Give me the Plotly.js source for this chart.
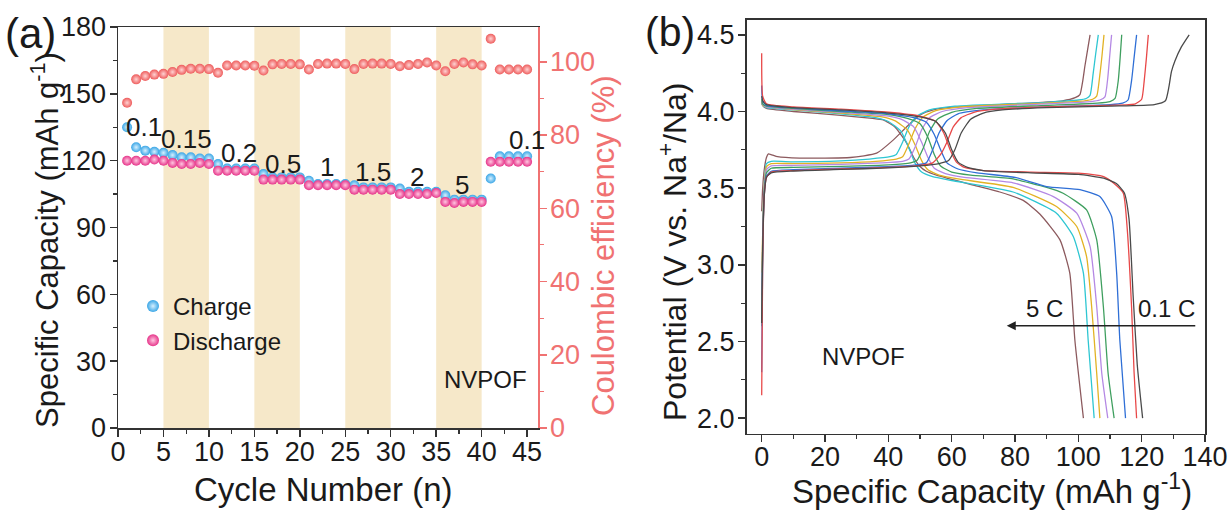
<!DOCTYPE html>
<html><head><meta charset="utf-8">
<script src="https://cdn.plot.ly/plotly-3.0.1.min.js"></script>
<style>html,body{margin:0;padding:0;background:#fff}#chart{width:1232px;height:512px}</style>
</head><body><div id="chart"></div>
<script>
// ---------- Panel (a) data ----------
const cycles = [1,2,3,4,5,6,7,8,9,10,11,12,13,14,15,16,17,18,19,20,21,22,23,24,25,26,27,28,29,30,31,32,33,34,35,36,37,38,39,40,41,42,43,44,45];
const chargeCap = [135,126,124.5,124,123.5,122.5,121.5,121.5,121,121,118.5,116.5,116.5,116.5,116.5,114,112.5,112.5,112.5,112.5,111,109.5,109.5,109.5,109.5,109,108,108,108,108,107.5,106,106,106,106,104.5,102.5,102.5,102.5,102.5,112,122,122,122,122];
const dischargeCap = [120,120,120,120.5,120,119,118.5,118.5,119,118.5,115.5,115.5,115.5,115.5,115.5,111.5,111.5,111.5,111.5,111.5,109,109,109,109,109,107,107,107,107,107,105,105,105,105,105.5,101.5,101,101.5,101.5,101.5,119.5,119.5,119.5,119.5,119.5];
const coulombicEff = [88.8,95.2,96.1,96.5,96.7,97.2,97.8,98.1,98.1,98.0,97.0,99.0,99.0,99.0,98.9,97.6,99.3,99.4,99.4,99.3,97.9,99.4,99.5,99.5,99.4,98.0,99.4,99.5,99.5,99.4,98.8,99.1,99.4,99.8,99.0,97.4,99.4,99.8,99.3,99.0,106.3,97.9,97.9,97.9,97.9];
const bandStart = [5,15,25,35];
const bandEnd = [10,20,30,40];
const rateLabels = ['0.1','0.15','0.2','0.5','1','1.5','2','5','0.1'];
const rateLabelCycle = [2.9,7.5,13.3,18.2,23.0,28.0,32.9,37.8,45.0];
const rateLabelCap = [135,129.7,123.4,118.5,117,114.9,112.7,109,129.3];

// ---------- Panel (b) data ----------
const rateNames = ['0.1 C','0.15 C','0.2 C','0.5 C','1 C','1.5 C','2 C','5 C'];
const chgCap_01 = [0,0.3,0.8,1.5,3,10,25,40,50,56,59,61,63,66,70,76,90,110,124,127.5,128.6,129.4,130.5,132.5,135];
const chgV_01   = [2.62,3.1,3.45,3.57,3.6,3.612,3.622,3.632,3.645,3.66,3.68,3.75,3.86,3.95,3.99,4.01,4.025,4.035,4.045,4.07,4.16,4.26,4.33,4.42,4.5];
const chgCap_015 = [0,0.3,0.8,1.5,3,10,25,40,50,54,56.5,58.5,60.5,63,67,74,90,110,118,120,120.8,121.5,122.1];
const chgV_015   = [2.15,3.0,3.45,3.57,3.605,3.615,3.625,3.635,3.648,3.665,3.72,3.8,3.9,3.96,3.995,4.015,4.03,4.04,4.05,4.08,4.2,4.35,4.5];
const chgCap_02 = [0,0.3,0.8,1.5,3,10,25,40,48,52,54,56,58.5,62,70,90,110,114,115.7,116.8,117.6,118.4];
const chgV_02   = [2.3,3.05,3.45,3.58,3.61,3.62,3.63,3.64,3.65,3.665,3.75,3.86,3.94,3.985,4.01,4.03,4.045,4.055,4.075,4.2,4.35,4.5];
const chgCap_05 = [0,0.3,0.8,1.5,3,10,25,40,47,49,51,53,55.5,60,68,90,106,110,111.6,112.6,113.2,113.7];
const chgV_05   = [2.65,3.1,3.48,3.6,3.63,3.635,3.642,3.652,3.665,3.68,3.76,3.87,3.95,3.995,4.02,4.04,4.055,4.065,4.085,4.2,4.35,4.5];
const chgCap_1 = [0,0.3,0.8,1.5,3,10,25,38,44.5,46.5,48.5,50.5,53,57,65,90,104,106.8,108.4,109.3,109.9,110.5];
const chgV_1   = [2.8,3.15,3.5,3.62,3.645,3.648,3.655,3.665,3.675,3.69,3.77,3.88,3.96,4.0,4.025,4.05,4.065,4.075,4.095,4.22,4.36,4.5];
const chgCap_15 = [0,0.3,0.8,1.5,3,10,25,36,42.5,44.5,46.5,48.5,51,55,63,90,102,104.5,105.8,106.8,107.5,108.1];
const chgV_15   = [2.95,3.2,3.52,3.64,3.66,3.66,3.665,3.675,3.69,3.705,3.79,3.89,3.965,4.005,4.03,4.055,4.07,4.08,4.1,4.24,4.37,4.5];
const chgCap_2 = [0,0.3,0.8,1.5,3,10,25,34,40.5,42.5,44.5,46.5,49,53,61,90,100,102.5,103.7,104.7,105.5,106.3];
const chgV_2   = [2.6,3.15,3.52,3.66,3.675,3.672,3.678,3.69,3.705,3.72,3.8,3.9,3.97,4.01,4.035,4.06,4.075,4.085,4.105,4.25,4.38,4.5];
const chgCap_5 = [0,0.3,0.8,1.5,2.1,5,12,28,36.3,41.6,45.8,50,54.2,60,75,95,99,100.5,101.4,102.1,102.9,103.7];
const chgV_5   = [3.35,3.5,3.62,3.7,3.724,3.705,3.696,3.7,3.728,3.815,3.9,3.978,4.011,4.028,4.045,4.07,4.09,4.11,4.2,4.3,4.4,4.5];

const disCap_01 = [0,0.3,1.5,10,25,40,50,55,58,60,62,65,70,85,100,108,112,114.5,116,117.3,118.6,120.3];
const disV_01   = [4.1,4.07,4.045,4.025,4.01,3.99,3.965,3.935,3.86,3.75,3.67,3.635,3.615,3.6,3.59,3.565,3.53,3.47,3.3,2.8,2.35,2.0];
const disCap_015 = [0,0.3,1.5,10,25,40,50,55,57.5,59.5,61.5,64,70,85,100,108,111,114.2,115.3,116.8,117.6,118.4];
const disV_015   = [4.38,4.1,4.05,4.03,4.015,3.995,3.97,3.935,3.86,3.75,3.67,3.635,3.615,3.605,3.598,3.575,3.535,3.467,3.272,2.728,2.3,2.0];
const disCap_02 = [0,0.3,1.5,10,25,40,48,52,54.5,56.5,58.5,62,68,80,90,100.5,106.8,110.5,112.1,113.1,114.9];
const disV_02   = [4.17,4.07,4.04,4.025,4.005,3.985,3.96,3.93,3.85,3.75,3.665,3.625,3.6,3.57,3.51,3.49,3.445,3.315,2.946,2.51,2.0];
const disCap_05 = [0,0.3,1.5,10,25,40,46,50,52.5,54.5,56.5,60,66,79.4,90,95.2,102.6,105.8,107.9,109.4,111.3];
const disV_05   = [4.08,4.05,4.035,4.02,4.0,3.98,3.955,3.92,3.83,3.72,3.645,3.605,3.585,3.56,3.505,3.467,3.358,3.163,2.728,2.293,2.0];
const disCap_1 = [0,0.3,1.5,10,25,40,44,48,50.5,52.5,54.5,58,64,79.4,92.1,99.5,103.7,105.8,107.4,109.3];
const disV_1   = [4.07,4.045,4.03,4.015,3.995,3.97,3.95,3.9,3.8,3.7,3.63,3.595,3.57,3.535,3.445,3.337,3.12,2.728,2.293,2.0];
const disCap_15 = [0,0.3,1.5,10,25,38,42,46,48.5,50.5,52.5,56,62,79.4,93.1,99.5,102.6,104.2,105.8,106.8];
const disV_15   = [4.07,4.04,4.03,4.013,3.99,3.965,3.94,3.88,3.78,3.68,3.62,3.585,3.56,3.505,3.38,3.25,3.054,2.728,2.293,2.0];
const disCap_2 = [0,0.3,1.5,10,25,36,40,44,46.5,48.5,50.5,54,60,79.4,93.1,98.4,101.6,103.1,105.0];
const disV_2   = [4.06,4.04,4.025,4.01,3.985,3.96,3.935,3.87,3.76,3.66,3.605,3.575,3.55,3.475,3.337,3.185,2.946,2.51,2.0];
const disCap_5 = [0,0.3,1.5,10,25,35,38.4,42,45.8,48,50,52,55.2,66.8,75.2,82.6,87.9,94.2,97.3,98.9,101.6];
const disV_5   = [4.06,4.04,4.02,4.0,3.975,3.955,3.945,3.9,3.794,3.7,3.641,3.61,3.585,3.52,3.475,3.42,3.33,3.163,2.946,2.51,2.0];

const chargeSets = [[chgCap_01,chgV_01],[chgCap_015,chgV_015],[chgCap_02,chgV_02],[chgCap_05,chgV_05],[chgCap_1,chgV_1],[chgCap_15,chgV_15],[chgCap_2,chgV_2],[chgCap_5,chgV_5]];
const dischargeSets = [[disCap_01,disV_01],[disCap_015,disV_015],[disCap_02,disV_02],[disCap_05,disV_05],[disCap_1,disV_1],[disCap_15,disV_15],[disCap_2,disV_2],[disCap_5,disV_5]];

// ---------- styling ----------
const FONT = 'Liberation Sans, Arial, Helvetica, sans-serif';
const rateColors = ['#4a4a4a','#e84848','#2f6fd6','#3f9f5f','#b488e4','#e2b224','#2ec6d2','#8c5a5e'];
const CE_COLOR = '#f07272';
const TICK = 27;

const traces = [];
traces.push({x: cycles, y: chargeCap, type:'scatter', mode:'markers', name:'Charge', xaxis:'x', yaxis:'y',
  marker:{size:10, color:'#3aa6e6', gradient:{type:'radial', color:'#d6f0ff'}, line:{width:0}}});
traces.push({x: cycles, y: dischargeCap, type:'scatter', mode:'markers', name:'Discharge', xaxis:'x', yaxis:'y',
  marker:{size:10, color:'#e6358a', gradient:{type:'radial', color:'#ffc6e0'}, line:{width:0}}});
traces.push({x: cycles, y: coulombicEff, type:'scatter', mode:'markers', name:'CE', showlegend:false, xaxis:'x', yaxis:'y2',
  marker:{size:10, color:'#ee5c5c', gradient:{type:'radial', color:'#ffd2d2'}, line:{width:0}}});

for (let i = chargeSets.length - 1; i >= 0; i--) {
  traces.push({x: chargeSets[i][0], y: chargeSets[i][1], type:'scatter', mode:'lines', name: rateNames[i]+' charge', showlegend:false,
    xaxis:'x2', yaxis:'y3', line:{color: rateColors[i], width:1.3, shape:'spline', smoothing:0.5}});
  traces.push({x: dischargeSets[i][0], y: dischargeSets[i][1], type:'scatter', mode:'lines', name: rateNames[i]+' discharge', showlegend:false,
    xaxis:'x2', yaxis:'y3', line:{color: rateColors[i], width:1.3, shape:'spline', smoothing:0.5}});
}

const shapes = bandStart.map((s, i) => ({type:'rect', xref:'x', yref:'y domain', x0:s, x1:bandEnd[i], y0:0, y1:1,
  fillcolor:'#f6e8c9', line:{width:0}, layer:'below'}));

const annotations = [];
rateLabels.forEach((t, i) => annotations.push({text:t, x: rateLabelCycle[i], y: rateLabelCap[i], xref:'x', yref:'y',
  showarrow:false, font:{size:26, color:'#1a1a1a', family:FONT}}));
annotations.push({text:'NVPOF', x:40.4, y:21.6, xref:'x', yref:'y', showarrow:false, font:{size:24, color:'#1a1a1a', family:FONT}});
annotations.push({text:'NVPOF', x:32.3, y:2.40, xref:'x2', yref:'y3', showarrow:false, font:{size:24, color:'#1a1a1a', family:FONT}});
annotations.push({text:'5 C', x:89.2, y:2.713, xref:'x2', yref:'y3', showarrow:false, font:{size:24, color:'#1a1a1a', family:FONT}});
annotations.push({text:'0.1 C', x:127.9, y:2.713, xref:'x2', yref:'y3', showarrow:false, font:{size:24, color:'#1a1a1a', family:FONT}});
annotations.push({text:'', x:77.4, y:2.602, ax:137.4, ay:2.602, xref:'x2', yref:'y3', axref:'x2', ayref:'y3',
  showarrow:true, arrowhead:2, arrowsize:1.2, arrowwidth:1.5, arrowcolor:'#222'});
// titles & panel letters
const T = (text, x, y, size, color, angle) => ({text, x, y, xref:'paper', yref:'paper', xanchor:'center', yanchor:'middle',
  showarrow:false, textangle: angle||0, font:{size, color: color||'#1a1a1a', family:FONT}});
annotations.push(T('(a)', 30/1232, 1-33/512, 42));
annotations.push(T('(b)', 670/1232, 1-32/512, 41));
annotations.push(T('Specific Capacity (mAh g<sup>-1</sup>)', 45/1232, 1-240/512, 31, null, -90));
annotations.push(T('Coulombic efficiency (%)', 603/1232, 1-246/512, 31, CE_COLOR, -90));
annotations.push(T('Cycle Number (n)', 323/1232, 1-489/512, 33));
annotations.push(T('Potential (V vs. Na<sup>+</sup>/Na)', 673/1232, 1-252/512, 32, null, -90));
annotations.push(T('Specific Capacity (mAh g<sup>-1</sup>)', 992/1232, 1-489/512, 33));

const axBase = {showline:true, linewidth:1.5, linecolor:'#333', ticks:'outside', ticklen:7, tickwidth:1.5, tickcolor:'#333',
  tickfont:{size:TICK, color:'#1a1a1a', family:FONT}, zeroline:false, showgrid:false, fixedrange:true};

const layout = {
  width:1232, height:512, margin:{l:0,r:0,t:0,b:0}, paper_bgcolor:'#fff', plot_bgcolor:'#fff',
  font:{family:FONT, color:'#1a1a1a'},
  showlegend:true,
  legend:{x:133/1232, y:1-284/512, xanchor:'left', yanchor:'top', bgcolor:'rgba(0,0,0,0)', borderwidth:0,
    font:{size:24, color:'#1a1a1a', family:FONT}, itemsizing:'constant'},
  xaxis: Object.assign({}, axBase, {domain:[118/1232, 538/1232], range:[0,46.2], tickvals:[0,5,10,15,20,25,30,35,40,45],
    mirror:true, anchor:'y', ticklabelstandoff:-8, minor:{ticks:'outside', dtick:2.5, tick0:0, ticklen:4, tickwidth:1.2, tickcolor:'#333'}}),
  yaxis: Object.assign({}, axBase, {domain:[1-428/512, 1-27/512], range:[0,180], tickvals:[0,30,60,90,120,150,180],
    anchor:'x', ticklabelstandoff:-2, minor:{ticks:'outside', dtick:15, tick0:0, ticklen:4, tickwidth:1.2, tickcolor:'#333'}}),
  yaxis2: Object.assign({}, axBase, {overlaying:'y', side:'right', anchor:'x', range:[0,109.5], tickvals:[0,20,40,60,80,100],
    linecolor:CE_COLOR, tickcolor:CE_COLOR, tickfont:{size:TICK, color:CE_COLOR, family:FONT}, ticklabelstandoff:-2,
    minor:{ticks:'outside', dtick:10, tick0:0, ticklen:4, tickwidth:1.2, tickcolor:CE_COLOR}}),
  xaxis2: Object.assign({}, axBase, {domain:[746.5/1232, 1205/1232], range:[-4.8,140], tickvals:[0,20,40,60,80,100,120,140],
    mirror:true, anchor:'y3', ticklabelstandoff:-8, minor:{ticks:'outside', dtick:10, tick0:0, ticklen:4, tickwidth:1.2, tickcolor:'#333'}}),
  yaxis3: Object.assign({}, axBase, {domain:[1-433.5/512, 1-19.5/512], range:[1.9,4.6], tickvals:[2.0,2.5,3.0,3.5,4.0,4.5],
    tickformat:'.1f', mirror:true, anchor:'x2', ticklabelstandoff:-2, minor:{ticks:'outside', dtick:0.25, tick0:2, ticklen:4, tickwidth:1.2, tickcolor:'#333'}}),
  shapes, annotations
};

Plotly.newPlot('chart', traces, layout, {displayModeBar:false, staticPlot:true});
</script></body></html>
